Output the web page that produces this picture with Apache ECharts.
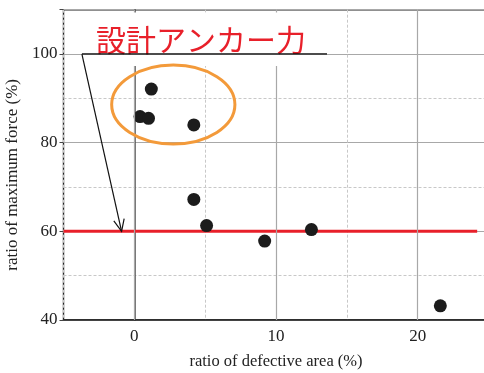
<!DOCTYPE html>
<html>
<head>
<meta charset="utf-8">
<script src="https://cdn.jsdelivr.net/npm/echarts@6/dist/echarts.min.js"></script>
<style>
  html, body { margin: 0; padding: 0; background: #fff; }
  #chart { width: 484px; height: 373px; }
</style>
</head>
<body>
<div id="chart"></div>
<script>
// Measured specimens: defective area vs. retained maximum force
const defectArea = [1.2, 0.4, 1.0, 4.2, 4.2, 5.1, 9.2, 12.5, 21.6];
const forceRatio = [92.1, 85.9, 85.5, 84.0, 67.2, 61.3, 57.8, 60.4, 43.2];

// Design anchor strength level (red line)
const designLevel = 60;
const designLineX = [-5, 24.2];

// Axis ranges and labelled ticks
const xRange = [-5, 25];
const yRange = [40, 110];
const xMajorTicks = [0, 10, 20];
const yMajorTicks = [40, 60, 80, 100];

// Callout text and the highlighted group (centre and radii in data units)
const calloutText = '設計アンカー力';
const groupCenter = [2.75, 88.6];
const groupRadius = [4.35, 8.9];
const arrowStart = [-3.7, 100];
const arrowTip = [-0.9, 60];

const serif = '"Liberation Serif", "Times New Roman", serif';
const chart = echarts.init(document.getElementById('chart'), null, { renderer: 'canvas' });

const points = defectArea.map((x, i) => [x, forceRatio[i]]);

chart.setOption({
  animation: false,
  grid: {
    left: 63.5, top: 9.7, width: 425, height: 310.3,
    outerBoundsMode: 'none', containLabel: false,
    show: true, borderColor: '#222', borderWidth: 1.4, backgroundColor: 'transparent'
  },
  xAxis: {
    type: 'value', min: xRange[0], max: xRange[1], interval: 5,
    name: 'ratio of defective area (%)', nameLocation: 'middle', nameGap: 33,
    nameTextStyle: { fontFamily: serif, fontSize: 16.5, color: '#222' },
    axisLine: { show: true, lineStyle: { color: '#222', width: 1.5 } },
    axisTick: { show: false },
    axisLabel: {
      margin: 8, fontFamily: serif, fontSize: 17, color: '#222',
      formatter: v => (xMajorTicks.includes(v) ? String(v) : '')
    },
    splitLine: { show: true, lineStyle: { color: '#c8c8c8', type: [3, 2], width: 1 } }
  },
  yAxis: [
    {
      type: 'value', min: yRange[0], max: yRange[1], interval: 10,
      name: 'ratio of maximum force (%)', nameLocation: 'middle', nameGap: 37,
      nameTextStyle: { fontFamily: serif, fontSize: 17, color: '#222', padding: [0, 20, 0, 0] },
      axisLine: { show: true, lineStyle: { color: '#444', width: 1.5 } },
      axisTick: { show: false },
      axisLabel: {
        margin: 6, fontFamily: serif, fontSize: 17, color: '#222',
        formatter: v => (yMajorTicks.includes(v) ? String(v) : '')
      },
      splitLine: { show: true, lineStyle: { color: '#c8c8c8', type: [3, 2], width: 1 } }
    },
    {
      type: 'value', min: yRange[0], max: yRange[1], interval: 20,
      position: 'left',
      axisLine: { show: false },
      axisTick: { show: true, inside: false, length: 4, lineStyle: { color: '#444' } },
      axisLabel: { show: false },
      splitLine: { show: true, lineStyle: { color: '#a8a8a8', width: 1.2 } }
    }
  ],
  series: [
    {
      // solid vertical grid lines at labelled x values
      type: 'line', data: [], silent: true,
      markLine: {
        silent: true, symbol: 'none', label: { show: false },
        lineStyle: { color: '#a8a8a8', width: 1.2, type: 'solid' },
        data: xMajorTicks.map(v => ({ xAxis: v }))
      },
      z: 1
    },
    {
      type: 'line', name: 'design', yAxisIndex: 0,
      data: designLineX.map(x => [x, designLevel]),
      showSymbol: false, symbol: 'none',
      lineStyle: { color: '#e8202a', width: 3 }, z: 3
    },
    {
      type: 'scatter', name: 'specimens', yAxisIndex: 0,
      data: points, symbolSize: 13,
      itemStyle: { color: '#1c1c1c', opacity: 1 }, z: 4
    }
  ]
});

// Callout graphics placed from data coordinates
function px(p) { return chart.convertToPixel({ gridIndex: 0 }, p); }
const c = px(groupCenter);
const cr = px([groupCenter[0] + groupRadius[0], groupCenter[1] + groupRadius[1]]);
const a0 = px(arrowStart);
const a1 = px(arrowTip);
const underlineEnd = 327;
const ang = Math.atan2(a1[1] - a0[1], a1[0] - a0[0]);
const headLen = 13, headAng = 0.42;
const head1 = [a1[0] - headLen * Math.cos(ang - headAng), a1[1] - headLen * Math.sin(ang - headAng)];
const head2 = [a1[0] - headLen * Math.cos(ang + headAng), a1[1] - headLen * Math.sin(ang + headAng)];

chart.setOption({
  graphic: [
    {
      type: 'rect', z: 10,
      shape: { x: a0[0], y: 12.5, width: underlineEnd - a0[0], height: 53.5 },
      style: { fill: '#fff' }
    },
    {
      type: 'text', z: 11, x: 96, y: 39.5,
      style: {
        text: calloutText, fill: '#e8202a',
        font: '30px "Noto Sans CJK JP", sans-serif',
        verticalAlign: 'middle', align: 'left'
      }
    },
    {
      type: 'line', z: 11,
      shape: { x1: a0[0], y1: a0[1], x2: underlineEnd, y2: a0[1] },
      style: { stroke: '#111', lineWidth: 1.5 }
    },
    {
      type: 'line', z: 11,
      shape: { x1: a0[0], y1: a0[1], x2: a1[0], y2: a1[1] },
      style: { stroke: '#111', lineWidth: 1.2 }
    },
    {
      type: 'polyline', z: 11,
      shape: { points: [head1, a1, head2] },
      style: { stroke: '#111', lineWidth: 1.2, fill: null }
    },
    {
      type: 'ellipse', z: 11,
      shape: { cx: c[0], cy: c[1], rx: cr[0] - c[0], ry: c[1] - cr[1] },
      style: { stroke: '#f39a3a', lineWidth: 3, fill: null }
    }
  ]
});
</script>
</body>
</html>
